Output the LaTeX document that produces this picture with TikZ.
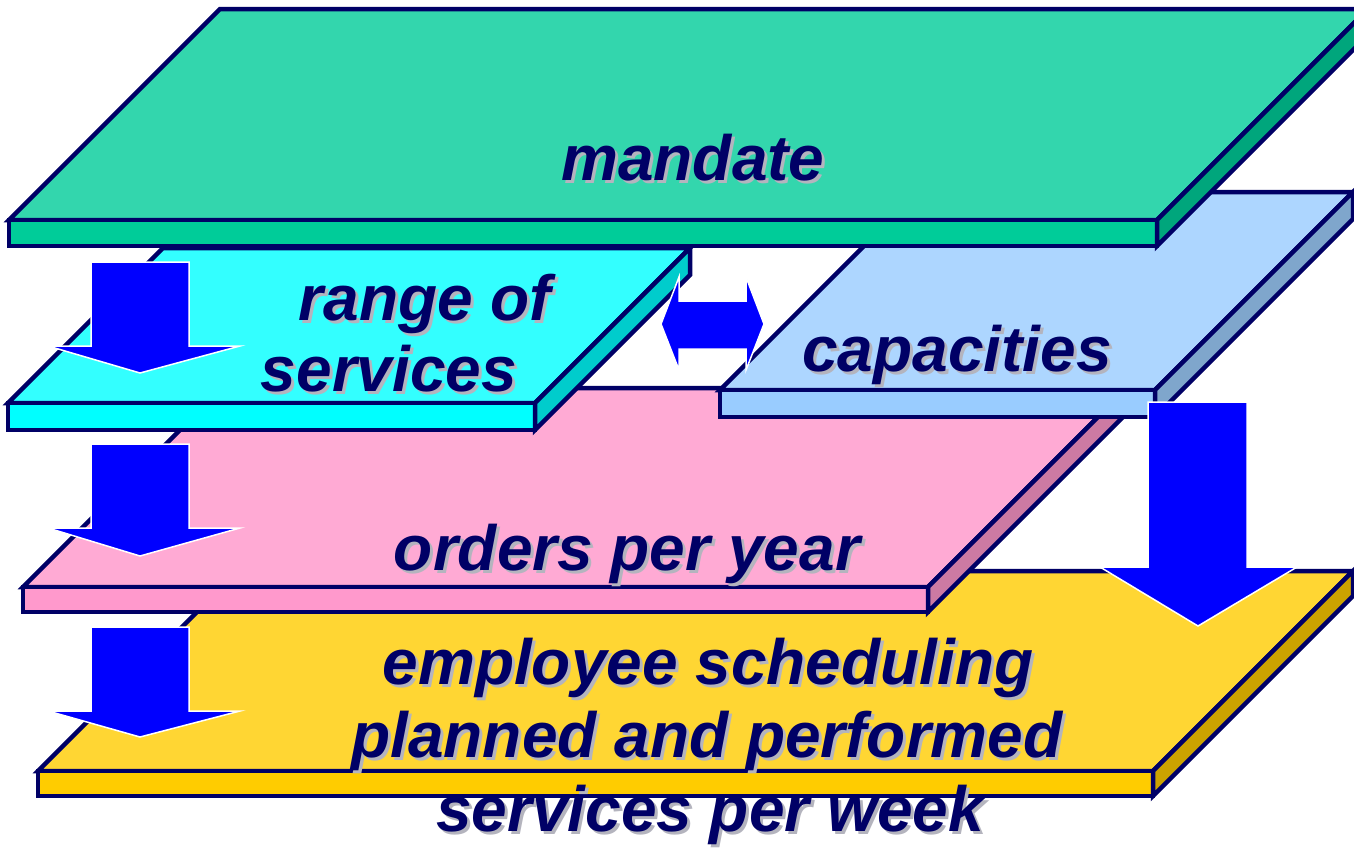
\documentclass[tikz,border=0pt]{standalone}
\usepackage{fontspec}
\setmainfont{Liberation Sans}
\begin{document}
\definecolor{navy}{HTML}{000066}
\definecolor{shadowgrey}{HTML}{B4B4BE}
\definecolor{arrowblue}{HTML}{0000FF}
% slab colours: top face, front face, side face
\definecolor{mtop}{HTML}{33D6AD}\definecolor{mfront}{HTML}{00CC99}\definecolor{mside}{HTML}{00A67C}
\definecolor{rtop}{HTML}{33FFFF}\definecolor{rfront}{HTML}{00FFFF}\definecolor{rside}{HTML}{00CCCC}
\definecolor{ctop}{HTML}{ADD6FF}\definecolor{cfront}{HTML}{99CCFF}\definecolor{cside}{HTML}{7FA6CC}
\definecolor{otop}{HTML}{FFAAD4}\definecolor{ofront}{HTML}{FF99CC}\definecolor{oside}{HTML}{CC7AA3}
\definecolor{etop}{HTML}{FFD633}\definecolor{efront}{HTML}{FFCC00}\definecolor{eside}{HTML}{CCA300}
% #1 left x, #2 right x, #3 top of front face, #4 thickness, #5 depth (45 deg),
% #6 top fill, #7 front fill, #8 side fill
\newcommand\slab[8]{%
  \filldraw[slab edge, fill=#6] (#1,#3) -- (#1+#5,#3-#5) -- (#2+#5,#3-#5) -- (#2,#3) -- cycle;
  \filldraw[slab edge, fill=#7] (#1,#3) rectangle (#2,#3+#4);
  \filldraw[slab edge, fill=#8] (#2,#3) -- (#2+#5,#3-#5) -- (#2+#5,#3-#5+#4) -- (#2,#3+#4) -- cycle;
}
% shadowed caption: #1 name, #2 centre x, #3 baseline y, #4 text
\newcommand\shadowlabel[4]{%
  \node[caption, text=shadowgrey] at (#2+3,#3+3) {#4};
  \node[caption] (#1) at (#2,#3) {#4};
}
\begin{tikzpicture}[x=1pt, y=-1pt,
  slab edge/.style={draw=navy, line width=4.5pt, line join=miter},
  block arrow/.style={fill=arrowblue, draw=white, line width=1.5pt, line join=miter},
  caption/.style={font=\bfseries\itshape\fontsize{64}{72}\selectfont, text=navy,
    inner sep=0pt, anchor=base}]
\useasboundingbox (0,0) rectangle (1354,849);
\clip (0,0) rectangle (1354,849);
\fill[white] (0,0) rectangle (1354,849);

% layers, bottom to top
\slab{38}{1153}{771}{25}{200}{etop}{efront}{eside}
\slab{23}{928}{587}{25}{199}{otop}{ofront}{oside}
\slab{720}{1155}{390}{27}{198}{ctop}{cfront}{cside}
\slab{8}{535}{403}{27}{155}{rtop}{rfront}{rside}
\slab{9}{1157}{220}{26}{211}{mtop}{mfront}{mside}

% downward block arrows on the left
\filldraw[block arrow] (91,262) -- (189,262) -- (189,346) -- (240,346) -- (140,373) -- (48,346) -- (91,346) -- cycle;
\filldraw[block arrow] (91,444) -- (189,444) -- (189,528) -- (240,528) -- (140,556) -- (48,528) -- (91,528) -- cycle;
\filldraw[block arrow] (91,627) -- (189,627) -- (189,711) -- (240,711) -- (140,737) -- (48,711) -- (91,711) -- cycle;
% large arrow from capacities down to scheduling
\filldraw[block arrow] (1148,402) -- (1247,402) -- (1247,567) -- (1297,567) -- (1198,626) -- (1100,567) -- (1148,567) -- cycle;
% two-headed arrow between range of services and capacities
\filldraw[block arrow] (661,324) -- (679,277) -- (679,301) -- (746,301) -- (746,277) -- (764,324)
  -- (746,370) -- (746,349) -- (679,349) -- (679,370) -- cycle;

% captions
\shadowlabel{mandate}{693}{180}{mandate}
\shadowlabel{range}{425}{320}{range of}
\shadowlabel{services}{389}{391}{services}
\shadowlabel{capacities}{957}{371}{capacities}
\shadowlabel{orders}{627}{570}{orders per year}
\shadowlabel{sched}{708}{684}{employee scheduling}
\shadowlabel{planned}{707}{757}{planned and performed}
\shadowlabel{week}{710}{831}{services per week}
\end{tikzpicture}
\end{document}
